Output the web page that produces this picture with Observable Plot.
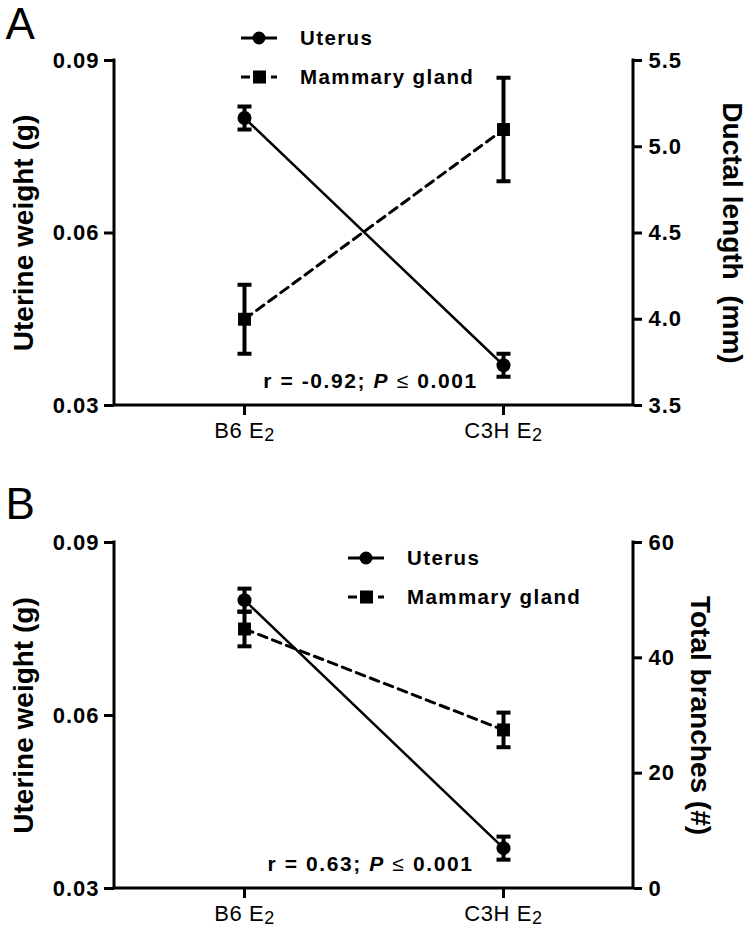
<!DOCTYPE html>
<html><head><meta charset="utf-8">
<script src="https://cdn.jsdelivr.net/npm/d3@7"></script>
<script src="https://cdn.jsdelivr.net/npm/@observablehq/plot@0.6"></script>
<style>
body{margin:0;background:#fff;font-family:"Liberation Sans",Arial,sans-serif;}
#chart svg{display:block;}
</style></head><body><div id="chart"></div>
<script>
// ---- data ----
const categories = ["B6 E\u2082", "C3H E\u2082"];
const seriesNames = ["Uterus", "Mammary gland"];
const leftTitle = "Uterine weight (g)";
const leftDomain = [0.03, 0.09];
const leftTicks = [0.03, 0.06, 0.09];

// Panel A
const uterusA = [0.080, 0.037];
const uterusErrA = [0.002, 0.002];
const ductalA = [4.0, 5.1];
const ductalErrA = [0.2, 0.3];
const ductalDomain = [3.5, 5.5];
const ductalTicks = [3.5, 4.0, 4.5, 5.0, 5.5];
const ductalTitle = "Ductal length  (mm)";
const annotationA = ["r = -0.92; ", "P", " \u2264 ", "0.001"];

// Panel B
const uterusB = [0.080, 0.037];
const uterusErrB = [0.002, 0.002];
const branchesB = [45, 27.5];
const branchesErrB = [3, 3];
const branchDomain = [0, 60];
const branchTicks = [0, 20, 40, 60];
const branchTitle = "Total branches (#)";
const annotationB = ["r = 0.63; ", "P", " \u2264 ", "0.001"];

// cap symbol for error bars
const capSymbol = {draw(ctx, size) { const r = Math.sqrt(size / Math.PI); ctx.moveTo(-r, 0); ctx.lineTo(r, 0); }};

function panel(cfg) {
  const toLeft = d3.scaleLinear(cfg.rightDomain, leftDomain);
  const toRight = toLeft.invert;
  const ut = categories.map((c, i) => ({c, m: cfg.uterus[i], lo: cfg.uterus[i] - cfg.uErr[i], hi: cfg.uterus[i] + cfg.uErr[i]}));
  const mg = categories.map((c, i) => ({c, m: toLeft(cfg.mam[i]), lo: toLeft(cfg.mam[i] - cfg.mErr[i]), hi: toLeft(cfg.mam[i] + cfg.mErr[i])}));

  const axisLines = (index, scales, values, dim) => {
    const g = d3.create("svg:g").attr("stroke", "black").attr("stroke-width", 3).attr("fill", "none");
    const x0 = dim.marginLeft, x1 = dim.width - dim.marginRight, y0 = dim.marginTop, y1 = dim.height - dim.marginBottom;
    g.append("path").attr("d", `M${x0},${y0}V${y1}H${x1}V${y0}`).attr("stroke-linejoin", "miter").attr("stroke-linecap", "square");
    return g.node();
  };

  const legend = (index, scales, values, dim) => {
    const g = d3.create("svg:g").attr("transform", `translate(${dim.marginLeft + cfg.legend[0]},${dim.marginTop + cfg.legend[1]})`);
    const row1 = g.append("g");
    row1.append("line").attr("x1", 0).attr("x2", 36).attr("stroke", "black").attr("stroke-width", 3);
    row1.append("circle").attr("cx", 18).attr("r", 6.5).attr("fill", "black");
    row1.append("text").attr("x", 59).attr("dy", "0.35em").text(seriesNames[0]);
    const row2 = g.append("g").attr("transform", "translate(0,39)");
    row2.append("line").attr("x1", 0).attr("x2", 36).attr("stroke", "black").attr("stroke-width", 3).attr("stroke-dasharray", "9,6");
    row2.append("rect").attr("x", 12).attr("y", -6.5).attr("width", 13).attr("height", 13).attr("fill", "black");
    row2.append("text").attr("x", 59).attr("dy", "0.35em").text(seriesNames[1]);
    g.selectAll("text").attr("text-anchor", "start").attr("font-size", 20.5).attr("font-weight", "bold").attr("letter-spacing", "1.4px").attr("fill", "black");
    return g.node();
  };

  const annotation = (index, scales, values, dim) => {
    const cx = (dim.marginLeft + dim.width - dim.marginRight) / 2 - 3;
    const t = d3.create("svg:text").attr("x", cx).attr("y", dim.height - dim.marginBottom - 17)
      .attr("text-anchor", "middle").attr("font-size", 21).attr("font-weight", "bold").attr("letter-spacing", "1.6px").attr("fill", "black");
    const parts = cfg.annotation;
    t.append("tspan").text(parts[0]);
    t.append("tspan").attr("font-style", "italic").text(parts[1]);
    t.append("tspan").attr("font-weight", "normal").text(parts[2]);
    t.append("tspan").text(parts[3]);
    return t.node();
  };

  const svg = Plot.plot({
    width: 750,
    height: 464,
    marginTop: cfg.marginTop,
    marginBottom: cfg.marginBottom,
    marginLeft: 114,
    marginRight: 117,
    style: {fontFamily: "'Liberation Sans', Arial, sans-serif", fontSize: "22px", fontWeight: "bold", color: "black", background: "white", overflow: "visible"},
    x: {type: "point", domain: categories, padding: 0.5},
    y: {domain: leftDomain},
    marks: [
      Plot.axisY({anchor: "left", ticks: leftTicks, tickFormat: d3.format(".2f"), tickSize: 10, tickPadding: 5, strokeWidth: 3, label: null}),
      Plot.axisY({anchor: "right", ticks: cfg.rightTicks.map(toLeft), tickFormat: d => cfg.rightFmt(toRight(d)), tickSize: 8, tickPadding: 7, strokeWidth: 3, label: null}),
      Plot.axisX({anchor: "bottom", tickSize: 10, tickPadding: 7, strokeWidth: 3, label: null}),
      axisLines,
      Plot.line(ut, {x: "c", y: "m", stroke: "black", strokeWidth: 2.5}),
      Plot.line(mg, {x: "c", y: "m", stroke: "black", strokeWidth: 3, strokeDasharray: "9,6"}),
      Plot.ruleX(ut, {x: "c", y1: "lo", y2: "hi", stroke: "black", strokeWidth: 4}),
      Plot.ruleX(mg, {x: "c", y1: "lo", y2: "hi", stroke: "black", strokeWidth: 4}),
      Plot.dot(ut, {x: "c", y: "lo", symbol: capSymbol, r: 7, stroke: "black", strokeWidth: 4}),
      Plot.dot(ut, {x: "c", y: "hi", symbol: capSymbol, r: 7, stroke: "black", strokeWidth: 4}),
      Plot.dot(mg, {x: "c", y: "lo", symbol: capSymbol, r: 7, stroke: "black", strokeWidth: 4}),
      Plot.dot(mg, {x: "c", y: "hi", symbol: capSymbol, r: 7, stroke: "black", strokeWidth: 4}),
      Plot.dot(ut, {x: "c", y: "m", r: 7, fill: "black"}),
      Plot.dot(mg, {x: "c", y: "m", r: 7.3, symbol: "square", fill: "black"}),
      Plot.text([leftTitle], {frameAnchor: "left", dx: -90, rotate: -90, textAnchor: "middle", lineAnchor: "middle", fontSize: 28, fontWeight: "bold", fill: "black"}),
      Plot.text([cfg.rightTitle], {frameAnchor: "right", dx: cfg.rightTitleDx, rotate: 90, textAnchor: "middle", lineAnchor: "middle", fontSize: 28, fontWeight: "bold", fill: "black"}),
      Plot.text([cfg.letter], {frameAnchor: "top-left", dx: -109, dy: cfg.letterDy, textAnchor: "start", lineAnchor: "bottom", fontSize: 44, fontWeight: "normal", fill: "black"}),
      legend,
      annotation
    ]
  });
  d3.select(svg).selectAll('g[aria-label="y-axis tick label"] text').attr("letter-spacing", "1px");
  d3.select(svg).selectAll('g[aria-label="x-axis tick label"] text').each(function() {
    const el = d3.select(this);
    el.attr("font-size", 22).attr("font-weight", "normal").style("font-size", "22px").style("font-weight", "normal").attr("letter-spacing", "0.6px");
    const s = el.text();
    const k = s.indexOf("\u2082");
    if (k < 0) return;
    el.text(null);
    el.append("tspan").text(s.slice(0, k));
    el.append("tspan").attr("font-size", 18).style("font-size", "18px").attr("dy", 3).text("2");
  });
  return svg;
}

const chart = document.getElementById("chart");
chart.appendChild(panel({
  letter: "A", letterDy: -22, marginTop: 60, marginBottom: 59,
  uterus: uterusA, uErr: uterusErrA, mam: ductalA, mErr: ductalErrA,
  rightDomain: ductalDomain, rightTicks: ductalTicks, rightFmt: d3.format(".1f"),
  rightTitle: ductalTitle, rightTitleDx: 98,
  legend: [127, -22], annotation: annotationA
}));
chart.appendChild(panel({
  letter: "B", letterDy: -24, marginTop: 78, marginBottom: 40,
  uterus: uterusB, uErr: uterusErrB, mam: branchesB, mErr: branchesErrB,
  rightDomain: branchDomain, rightTicks: branchTicks, rightFmt: d3.format("d"),
  rightTitle: branchTitle, rightTitleDx: 66,
  legend: [234, 16], annotation: annotationB
}));
</script>
</body></html>
